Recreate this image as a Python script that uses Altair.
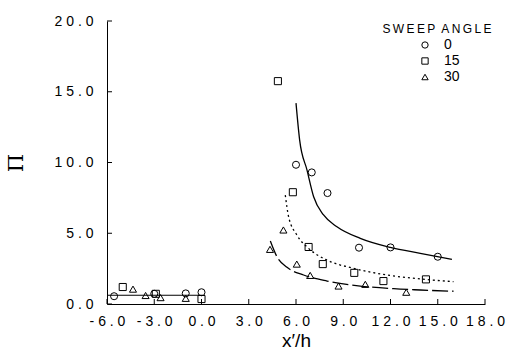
import altair as alt
import pandas as pd

# ---- data ----
angles = ["0", "15", "30"]

x0 = [-5.55, -3.0, -1.0, 0.0, 6.0, 7.0, 8.0, 10.0, 12.0, 15.0]
y0 = [0.55, 0.72, 0.75, 0.83, 9.84, 9.3, 7.84, 3.98, 4.0, 3.34]

x15 = [-5.0, -2.9, 0.0, 4.85, 5.8, 6.8, 7.7, 9.7, 11.55, 14.25]
y15 = [1.2, 0.72, 0.35, 15.75, 7.9, 4.03, 2.82, 2.2, 1.62, 1.74]

x30 = [-4.35, -3.55, -2.6, -1.0, 4.35, 5.2, 6.05, 6.9, 8.7, 10.4, 13.0]
y30 = [1.05, 0.6, 0.45, 0.4, 3.86, 5.23, 2.82, 2.02, 1.27, 1.39, 0.83]

# fitted curves
cx0 = [6.0, 6.23, 6.7, 7.12, 7.75, 8.6, 10.08, 11.99, 13.89, 15.9]
cy0 = [14.2, 11.6, 9.46, 7.58, 6.29, 5.46, 4.64, 4.0, 3.58, 3.16]

cx15 = [5.32, 5.53, 6.06, 6.8, 7.97, 9.66, 11.78, 13.89, 16.0]
cy15 = [7.7, 6.17, 4.87, 3.93, 3.1, 2.52, 2.05, 1.77, 1.58]

cx30 = [4.37, 4.79, 5.43, 6.48, 7.97, 10.08, 12.2, 13.89, 16.0]
cy30 = [4.45, 3.34, 2.59, 2.05, 1.62, 1.27, 1.08, 0.99, 0.9]

# upstream mean line
bx = [-6.0, 0.1]
by = [0.62, 0.62]

xticks = [-6.0, -3.0, 0.0, 3.0, 6.0, 9.0, 12.0, 15.0, 18.0]
yticks = [0.0, 5.0, 10.0, 15.0, 20.0]

legend_title = "S\u2009W\u2009E\u2009E\u2009P\u2002A\u2009N\u2009G\u2009L\u2009E"

# ---- tables ----
pts = pd.concat([
    pd.DataFrame({"x": x0, "y": y0, "angle": angles[0]}),
    pd.DataFrame({"x": x15, "y": y15, "angle": angles[1]}),
    pd.DataFrame({"x": x30, "y": y30, "angle": angles[2]}),
])
c0 = pd.DataFrame({"x": cx0, "y": cy0})
c15 = pd.DataFrame({"x": cx15, "y": cy15})
c30 = pd.DataFrame({"x": cx30, "y": cy30})
base_df = pd.DataFrame({"x": bx, "y": by})
xt = pd.DataFrame({"t": xticks})
yt = pd.DataFrame({"t": yticks})

spaced = "replace(join(split(format(datum.value,'.1f'),''),' '),'\u2212','-')"

xscale = alt.Scale(domain=[-6, 18], nice=False, zero=False)
yscale = alt.Scale(domain=[0, 20], nice=False, zero=False)

xaxis = alt.Axis(values=xticks, labelExpr=spaced, title="x\u2032/h", grid=False,
                 ticks=False, labelPadding=10, titlePadding=3, labelOverlap=False,
                 labelFlush=False, labelFontSize=14,
                 titleFont="Liberation Sans", titleFontSize=19, titleFontWeight="normal")
yaxis = alt.Axis(values=yticks, labelExpr=spaced, title="\u03a0", grid=False,
                 ticks=False, labelPadding=14, titlePadding=28, labelOverlap=False,
                 labelFlush=False, labelFontSize=14,
                 titleFont="DejaVu Serif", titleFontSize=21, titleFontWeight="normal")

points = alt.Chart(pts).mark_point(filled=False, color="black", size=50, strokeWidth=1, opacity=1).encode(
    x=alt.X("x:Q", scale=xscale, axis=xaxis),
    y=alt.Y("y:Q", scale=yscale, axis=yaxis),
    shape=alt.Shape("angle:N", sort=angles,
                    scale=alt.Scale(domain=angles, range=["circle", "square", "triangle-up"]),
                    legend=alt.Legend(title=None, orient="none", legendX=311, legendY=17,
                                      symbolSize=40, symbolStrokeColor="black",
                                      symbolFillColor="transparent", symbolStrokeWidth=1,
                                      labelFont="Liberation Sans", labelFontSize=14,
                                      labelOffset=12, rowPadding=2, padding=0)),
)

l0 = alt.Chart(c0).mark_line(color="black", strokeWidth=1.3, interpolate="monotone").encode(
    x=alt.X("x:Q", scale=xscale), y=alt.Y("y:Q", scale=yscale))
l15 = alt.Chart(c15).mark_line(color="black", strokeWidth=1.3, strokeDash=[2, 3], interpolate="monotone").encode(
    x=alt.X("x:Q", scale=xscale), y=alt.Y("y:Q", scale=yscale))
l30 = alt.Chart(c30).mark_line(color="black", strokeWidth=1.3, strokeDash=[16, 4], interpolate="monotone").encode(
    x=alt.X("x:Q", scale=xscale), y=alt.Y("y:Q", scale=yscale))
lb = alt.Chart(base_df).mark_line(color="black", strokeWidth=1.2).encode(
    x=alt.X("x:Q", scale=xscale), y=alt.Y("y:Q", scale=yscale))

xtick_marks = alt.Chart(xt).mark_rule(color="black", strokeWidth=1, y2Offset=-5).encode(
    x=alt.X("t:Q", scale=xscale), y=alt.datum(0), y2=alt.datum(0))
ytick_marks = alt.Chart(yt).mark_rule(color="black", strokeWidth=1, x2Offset=5).encode(
    y=alt.Y("t:Q", scale=yscale), x=alt.datum(-6), x2=alt.datum(-6))

title_txt = alt.Chart(pd.DataFrame({"t": [legend_title]})).mark_text(
    font="Liberation Sans", fontSize=12, align="center", baseline="middle", color="black"
).encode(text=alt.Text("t:N"), x=alt.value(330), y=alt.value(8))

chart = alt.layer(points, l0, l15, l30, lb, xtick_marks, ytick_marks, title_txt).properties(
    width=378, height=283,
    autosize=alt.AutoSizeParams(type="none"),
    padding={"left": 107, "top": 21, "right": 24, "bottom": 50},
).configure_view(stroke=None).configure_axis(
    domainColor="black", domainWidth=1, labelColor="black", titleColor="black",
    labelFont="Liberation Sans", labelFontSize=14,
).configure_legend(labelColor="black")

chart.save("out.html", embed_options={"renderer": "svg", "actions": False})
